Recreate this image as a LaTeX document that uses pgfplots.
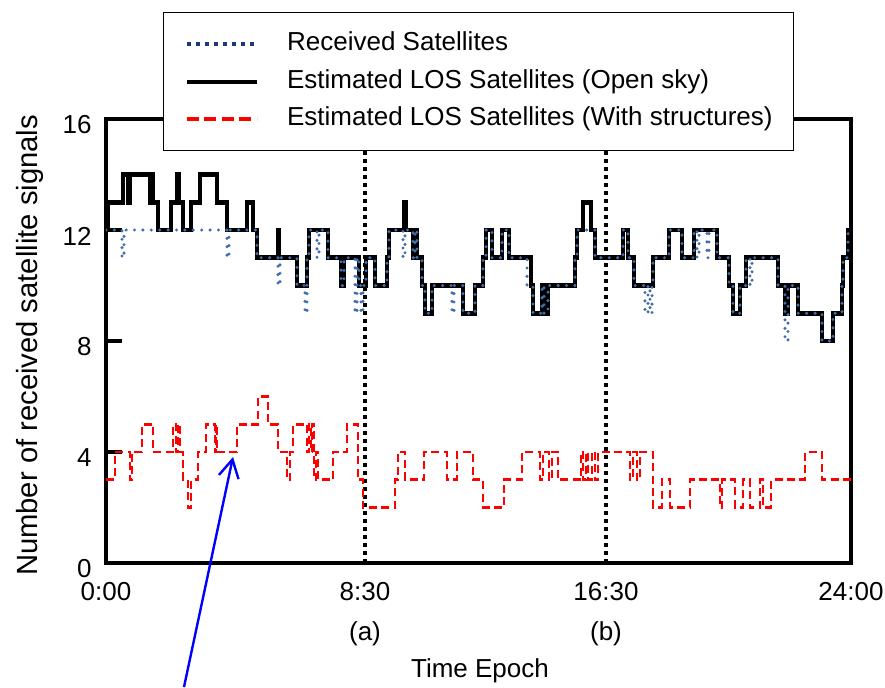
\documentclass[border=0pt]{standalone}
\usepackage{pgfplots}
\pgfplotsset{compat=1.18}
\usepackage{fontspec}
\setmainfont{Liberation Sans}
\usetikzlibrary{arrows.meta}
\definecolor{navy}{RGB}{31,56,120}
\definecolor{dotblue}{RGB}{68,110,170}
\newcommand{\ff}{\fontsize{13}{15.6}\selectfont}
\begin{document}
\begin{tikzpicture}
\useasboundingbox (-53pt,-62pt) rectangle (389.5pt,281.5pt);
\begin{axis}[
  at={(0,0)}, anchor=south west,
  scale only axis, width=372.5pt, height=222pt,
  xmin=0, xmax=745, ymin=0, ymax=16,
  axis line style={line width=2pt},
  xtick={0,259,500,745}, xticklabels={0:00,8:30,16:30,24:00},
  ytick={0,4,8,12,16}, yticklabels={0,4,8,12,16},
  tick align=inside,
  xtick style={draw=none},
  ytick style={line width=2pt, black},
  major tick length=8pt,
  ytick pos=left,
  tick label style={font=\ff, inner sep=0pt},
  xticklabel style={anchor=center, yshift=-14.5pt},
  yticklabel style={anchor=east, xshift=-7pt, yshift=-3pt},
  label style={font=\ff},
  xlabel={Time Epoch},
  xlabel style={at={(axis description cs:0.502,-0.243)}, anchor=center},
  ylabel={Number of received satellite signals},
  ylabel style={at={(axis description cs:-0.102,0.49)}, anchor=center, font=\fontsize{14.6}{17}\selectfont},
  legend style={at={(axis description cs:0.0765,1.241)}, anchor=north west,
    draw=black, line width=0.75pt, fill=white, font=\ff,
    inner xsep=10.5pt, inner ysep=9.5pt, row sep=6.25pt, column sep=14pt,
    nodes={inner sep=0pt, text height=9.5pt, text depth=3pt},
    cells={anchor=west}},
  legend image code/.code={\draw[#1] (0pt,0pt) -- (35pt,0pt);},
]
\addlegendimage{navy, line width=2pt, dash pattern=on 2pt off 2.5pt}
\addlegendentry{Received Satellites}
\addlegendimage{black, line width=2.2pt}
\addlegendentry{Estimated LOS Satellites (Open sky)}
\addlegendimage{red, line width=2pt, dash pattern=on 6pt off 2.75pt}
\addlegendentry{Estimated LOS Satellites (With structures)}

% vertical separators
\addplot[forget plot, black, line width=2pt, dash pattern=on 2pt off 2pt] coordinates {(259,0) (259,16)};
\addplot[forget plot, black, line width=2pt, dash pattern=on 2pt off 2pt] coordinates {(500,0) (500,16)};

% Estimated LOS (open sky)
\addplot[forget plot, const plot, black, line width=2.4pt] coordinates {
(0,12) (2,13) (17,14) (22,13) (24,14) (44,13) (46,14) (47,13) (52,12) (65,13) (71,14) (73,13) (77,12) (85,13) (94,14) (111,13) (121,12) (141,13) (147,12) (151,11) (172,12) (173,11) (191,10) (201,11) (203,12) (222,11) (235,10) (238,11) (253,10) (260,11) (269,10) (281,11) (283,12) (298,13) (300,12) (307,11) (309,12) (311,11) (316,10) (319,9) (326,10) (357,9) (369,10) (377,11) (380,12) (386,11) (396,12) (403,11) (425,10) (427,9) (436,10) (438,9) (442,10) (469,11) (471,12) (477,13) (485,12) (489,11) (517,12) (522,11) (528,10) (547,11) (563,12) (576,11) (588,12) (611,11) (623,10) (627,9) (634,10) (640,11) (672,10) (679,9) (682,10) (692,9) (716,8) (727,9) (736,10) (737,11) (742,12) (745,12)};

% Received satellites
\addplot[forget plot, const plot, dotblue, line width=1.7pt, line cap=round, dash pattern=on 0pt off 4.2pt] coordinates {
(0,12) (16,11) (18,12) (121,11) (123,12) (151,11) (172,10) (174,11) (191,10) (199,9) (201,11) (203,12) (211,11) (213,12) (222,11) (235,10) (238,11) (249,9) (251,11) (253,10) (255,9) (257,10) (260,11) (269,10) (281,11) (283,12) (297,11) (299,12) (307,11) (309,12) (311,11) (316,10) (319,9) (326,10) (346,9) (348,10) (357,9) (369,10) (377,11) (380,12) (386,11) (396,12) (403,11) (421,10) (427,9) (436,10) (438,9) (442,10) (469,11) (471,12) (489,11) (517,12) (522,11) (528,10) (539,9) (542,10) (544,9) (546,10) (547,11) (563,12) (576,11) (588,12) (591,11) (593,12) (601,11) (603,12) (611,11) (623,10) (627,9) (634,10) (640,11) (644,10) (646,11) (672,10) (679,8) (682,10) (692,9) (716,8) (727,9) (736,10) (737,11) (742,12) (745,12)};

% Estimated LOS (with structures)
\addplot[forget plot, const plot, red, line width=1.4pt, dash pattern=on 4pt off 2.2pt] coordinates {
(0,3) (9,4) (24,3) (26,4) (36,5) (47,4) (67,5) (70,4) (72,5) (74,4) (77,3) (82,2) (85,3) (92,4) (100,5) (109,4) (110,5) (111,4) (131,5) (152,6) (162,5) (172,4) (181,3) (184,4) (187,5) (201,4) (203,5) (205,4) (206,5) (208,3) (210,4) (212,3) (227,4) (241,5) (252,3) (257,2) (289,3) (292,4) (299,3) (318,4) (341,3) (351,4) (367,3) (377,2) (398,3) (416,4) (434,3) (437,4) (443,3) (446,4) (452,3) (475,4) (477,3) (480,4) (482,3) (486,4) (489,3) (492,4) (524,3) (527,4) (531,3) (534,4) (547,2) (556,3) (564,2) (584,3) (614,2) (616,3) (629,2) (637,3) (644,2) (654,3) (657,2) (665,3) (699,4) (716,3) (745,3)};
\end{axis}
\node[font=\ff] at (129.5pt,-35.5pt) {(a)};
\node[font=\ff] at (250pt,-35.5pt) {(b)};
\draw[blue, line width=1.2pt, -{Straight Barb[length=9pt,width=10pt]}] (39pt,-62pt) -- (63.5pt,53pt);
\end{tikzpicture}
\end{document}
